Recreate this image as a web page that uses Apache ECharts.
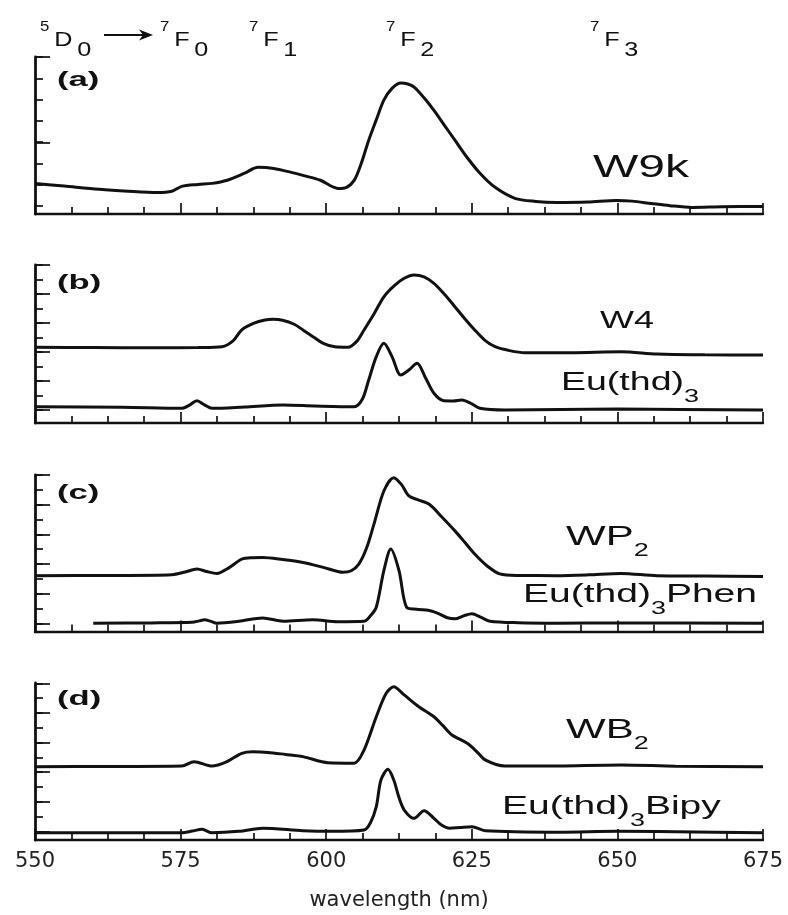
<!DOCTYPE html>
<html>
<head>
<meta charset="utf-8">
<script src="https://cdn.jsdelivr.net/npm/echarts@6/dist/echarts.min.js"></script>
<style>html,body{margin:0;padding:0;background:#fff}#c{width:788px;height:915px}</style>
</head>
<body>
<div id="c"></div>
<script>
// ---------- data (wavelength nm, relative intensity in % of panel height) ----------
const xTickValues = [550, 575, 600, 625, 650, 675];

const wlW9k  = [550, 555, 561, 566, 571, 573.5, 575.2, 578, 580.4, 583, 586, 588.3, 591, 594, 596, 599, 602, 603.5, 604.8, 606, 607.3, 608.6, 609.9, 611.3, 612.8, 614, 615.1, 616.8, 618.5, 620.3, 622.1, 624.2, 626.4, 629, 632.4, 636, 639.5, 645, 649.8, 652.5, 655.8, 659, 662.8, 668, 675];
const intW9k = [19.5, 17.8, 15.7, 14.5, 13.7, 14.5, 17.6, 18.8, 19.5, 21.5, 26, 29.7, 29, 26.5, 24.6, 21.5, 16.3, 17, 21.4, 32, 47, 60, 72.5, 80, 83.4, 82.8, 80.8, 74, 66, 56.5, 47, 36, 26, 17, 10, 8, 7.3, 7.6, 8.6, 8.2, 6.7, 5.3, 4.2, 4.6, 4.8];

const wlW4  = [550, 560, 570, 578, 582.1, 584, 585.5, 587.5, 589.5, 590.9, 592.5, 594.5, 596, 597.8, 599.5, 601.5, 603.7, 605.2, 606.5, 608.2, 609.9, 611.7, 613.4, 615.1, 616.8, 618.5, 620.3, 622.1, 623.8, 625.5, 627.2, 629, 631.5, 634.1, 642, 650.6, 656.8, 665, 675];
const intW4 = [47.9, 47.8, 47.6, 47.8, 48.3, 52, 58.9, 63, 65.2, 65.6, 65, 62.5, 58.9, 54.5, 50.4, 48.2, 47.9, 51.5, 58.9, 69, 79.9, 87, 91.6, 93.7, 92.5, 88.4, 81.5, 73.6, 66, 58.9, 52.5, 48.3, 45.8, 44.5, 44.5, 45.1, 43.7, 43.2, 43];

const wlEu  = [550, 565, 575.2, 576.6, 577.8, 579.1, 580.4, 586, 592.6, 598, 604.8, 606.2, 607.3, 608.6, 609.9, 611.3, 612.8, 614.2, 615.6, 617, 618.5, 620.2, 621.8, 623.3, 624.8, 626.4, 630.7, 650, 675];
const intEu = [10.3, 10, 9.3, 11.5, 14.1, 11.5, 9.3, 10.2, 11.4, 10.8, 10.3, 15, 27.2, 42, 50.4, 42, 30.4, 33.5, 37.8, 29, 18.8, 14.1, 14, 14.6, 12.5, 9.3, 8.2, 8.8, 8.2];

const wlWP2  = [550, 562, 573.5, 575.8, 577.8, 579.5, 581.2, 583.4, 585.5, 587.3, 589.1, 592.5, 596, 599.5, 602.9, 604.3, 605.6, 606.9, 608.2, 609.9, 611.6, 612.9, 614.2, 615.9, 617.7, 619.9, 622.1, 623.8, 625.5, 627.6, 629.8, 633, 639.5, 645, 650.6, 656.8, 665, 675];
const intWP2 = [35.7, 35.8, 36.3, 38, 39.9, 38.3, 37.1, 41, 46.3, 47.2, 47.3, 46, 44.1, 41, 37.8, 38.8, 43.1, 53, 68.6, 89.8, 98.3, 94, 86.6, 84, 81.3, 73, 64.3, 57, 49.5, 42, 36.8, 35.8, 35.7, 36.2, 37.1, 35.7, 35.5, 35.2];

const wlPhen  = [560, 570, 577.0, 578.2, 579.1, 580.2, 581.2, 585, 589.1, 592.6, 597.7, 602, 606.5, 607.6, 608.6, 609.9, 611.1, 612.5, 613.8, 615.5, 617.7, 619.4, 620.8, 622.1, 623.6, 625.0, 626.6, 628.1, 633, 639.5, 650, 675];
const intPhen = [5.3, 5.5, 5.9, 6.8, 7.5, 6.5, 5.3, 6.5, 8.7, 6.6, 7.5, 6.3, 6.6, 10, 15.5, 38.9, 52.7, 38.9, 15.5, 14.2, 13.4, 11.3, 8.8, 8.1, 10, 11.3, 9, 6.6, 5.6, 5.3, 5.5, 5.3];

const wlWB2  = [550, 562, 575.2, 577.3, 580.4, 583, 585.5, 587.4, 590, 593, 596, 600.3, 604.8, 606.5, 608.6, 610.3, 611.6, 613.4, 615.9, 618.5, 620, 621.6, 624.2, 625.8, 627.3, 630.7, 640, 650.6, 660, 675];
const intWB2 = [46.7, 46.8, 47.1, 49.9, 47.1, 50, 55.2, 56.2, 55.8, 54.5, 53.1, 49.2, 48.9, 57.3, 78.5, 93.4, 97.6, 92.4, 84.9, 78.5, 73, 66.9, 61.6, 56.5, 51, 47.1, 47.2, 47.8, 47, 46.7];

const wlBipy  = [550, 565, 575.2, 577, 578.7, 580.4, 585, 589.1, 596, 601, 606.5, 607.6, 608.6, 609.4, 610.6, 611.6, 612.5, 613.4, 615.1, 616.8, 618.5, 619.8, 621.2, 623, 625.0, 627.3, 640, 650, 675];
const intBipy = [4.6, 4.6, 4.6, 5.7, 6.8, 4.6, 5.5, 7.5, 5.9, 5.5, 6.4, 11, 21.2, 38.2, 45, 38.2, 27, 19.1, 13.8, 18.7, 13.8, 9.5, 7.5, 8, 8.5, 5.9, 5, 5.6, 4.6];

// ---------- layout / style ----------
const INK = '#111';
const SANS = '"Liberation Sans", Arial, sans-serif';
const WIDE = '"DejaVu Sans", sans-serif';
const LEFT = 35, RIGHT = 25;
const panels = [
  { top: 57,  bottom: 214,   curves: [[wlW9k, intW9k]] },
  { top: 265, bottom: 423,   curves: [[wlW4, intW4], [wlEu, intEu]] },
  { top: 475, bottom: 631.5, curves: [[wlWP2, intWP2], [wlPhen, intPhen]] },
  { top: 683, bottom: 840,   curves: [[wlWB2, intWB2], [wlBipy, intBipy]] }
];
// inside tick marks of the left axes (each set = its own tick scale)
const tickSets = [
  { top: 57,    height: 149,   max: 7,  interval: 1, len: 8 },
  { top: 57,    height: 85.7,  max: 4,  interval: 4, len: 15 },
  { top: 265,   height: 145,   max: 10, interval: 1, len: 8 },
  { top: 265,   height: 145,   max: 10, interval: 2, len: 15 },
  { top: 475,   height: 148.3, max: 10, interval: 1, len: 8 },
  { top: 475,   height: 148.3, max: 10, interval: 2, len: 15 },
  { top: 683.3, height: 148,   max: 10, interval: 1, len: 8 },
  { top: 683.3, height: 148,   max: 10, interval: 2, len: 15 }
];

const grids = [], xAxes = [], yAxes = [], series = [];
panels.forEach((p, i) => {
  grids.push({ left: LEFT, right: RIGHT, top: p.top, height: p.bottom - p.top, outerBoundsMode: 'none', containLabel: false });
  const last = i === panels.length - 1;
  xAxes.push({
    type: 'value', gridIndex: i, min: xTickValues[0], max: xTickValues[xTickValues.length - 1], interval: 25,
    axisLine: { show: true, onZero: false, lineStyle: { color: INK, width: 2.4 } },
    axisTick: { show: true, inside: true, length: 11, lineStyle: { color: INK, width: 1.7 } },
    minorTick: { show: true, splitNumber: 4, length: 7, lineStyle: { color: INK, width: 1.7 } },
    splitLine: { show: false }, minorSplitLine: { show: false },
    axisLabel: { show: last, margin: 11, color: '#222', fontFamily: WIDE, fontSize: 21, showMinLabel: true, showMaxLabel: true },
    name: last ? 'wavelength (nm)' : '',
    nameLocation: 'middle', nameGap: 50,
    nameTextStyle: { color: '#222', fontFamily: WIDE, fontSize: 21 }
  });
  yAxes.push({
    type: 'value', gridIndex: i, min: 0, max: 100,
    axisLine: { show: true, onZero: false, lineStyle: { color: INK, width: 2.8 } },
    axisTick: { show: false }, axisLabel: { show: false }, splitLine: { show: false }
  });
  p.curves.forEach(([wl, val]) => {
    series.push({
      type: 'line', xAxisIndex: i, yAxisIndex: i,
      data: wl.map((w, k) => [w, val[k]]),
      showSymbol: false, smooth: 0.3, silent: true,
      lineStyle: { color: INK, width: 3 }
    });
  });
});
tickSets.forEach((t, j) => {
  const g = grids.length;
  grids.push({ left: LEFT, right: RIGHT, top: t.top, height: t.height, outerBoundsMode: 'none', containLabel: false });
  xAxes.push({ type: 'value', gridIndex: g, min: 0, max: 1, show: false });
  yAxes.push({
    type: 'value', gridIndex: g, min: 0, max: t.max, interval: t.interval,
    axisLine: { show: false }, axisLabel: { show: false }, splitLine: { show: false },
    axisTick: { show: true, inside: true, length: t.len, lineStyle: { color: INK, width: 1.7 } }
  });
});

// ---------- text annotations ----------
function sub(x, y, main, subTxt, tail, size, align) {
  const rich = {
    m: { fontFamily: SANS, fontSize: size, lineHeight: 46, fill: INK },
    s: { fontFamily: SANS, fontSize: 18, lineHeight: 18, verticalAlign: 'bottom', fill: INK }
  };
  const text = '{m|' + main + '}' + (subTxt ? '{s|' + subTxt + '}' : '') + (tail ? '{m|' + tail + '}' : '');
  return { type: 'text', x: x, y: y, scaleX: 1.5, silent: true,
    style: { text: text, rich: rich, align: align || 'left', verticalAlign: 'middle' } };
}
function term(x, sup, main, subTxt) {
  return { type: 'text', x: x, y: 40.5, scaleX: 1.2, silent: true,
    style: {
      text: '{p|' + sup + '}{b|' + main + '}{q|' + subTxt + '}',
      verticalAlign: 'middle', align: 'left',
      rich: {
        p: { fontFamily: SANS, fontSize: 14, lineHeight: 14, verticalAlign: 'top', fill: INK },
        b: { fontFamily: SANS, fontSize: 21, lineHeight: 41, fill: INK, padding: [0, 0, 0, 4] },
        q: { fontFamily: SANS, fontSize: 21, lineHeight: 31, verticalAlign: 'bottom', fill: INK, padding: [0, 0, 0, 4] }
      }
    } };
}
function panelTag(y, t) {
  return { type: 'text', x: 57, y: y, scaleX: 1.65, silent: true,
    style: { text: t, fontFamily: SANS, fontWeight: 'bold', fontSize: 21, fill: INK, align: 'left', verticalAlign: 'middle' } };
}

const graphic = [
  term(40, '5', 'D', '0'),
  { type: 'line', silent: true, shape: { x1: 104, y1: 35, x2: 146, y2: 35 }, style: { stroke: INK, lineWidth: 2.2 } },
  { type: 'polygon', silent: true, shape: { points: [[139, 29.5], [153, 35], [139, 40.5], [143, 35]] }, style: { fill: INK } },
  term(160, '7', 'F', '0'),
  term(249, '7', 'F', '1'),
  term(386, '7', 'F', '2'),
  term(590, '7', 'F', '3'),
  panelTag(80, '(a)'), panelTag(283, '(b)'), panelTag(493, '(c)'), panelTag(699, '(d)'),
  sub(641, 168, 'W9k', '', '', 32, 'center'),
  sub(627, 321, 'W4', '', '', 24, 'center'),
  sub(561, 383, 'Eu(thd)', '3', '', 25),
  sub(566, 537, 'WP', '2', '', 28),
  sub(523, 595, 'Eu(thd)', '3', 'Phen', 26),
  sub(566, 730, 'WB', '2', '', 28),
  sub(502, 807, 'Eu(thd)', '3', 'Bipy', 26)
];

const chart = echarts.init(document.getElementById('c'), null, { renderer: 'canvas' });
chart.setOption({
  animation: false,
  backgroundColor: '#fff',
  grid: grids, xAxis: xAxes, yAxis: yAxes, series: series, graphic: graphic
});
</script>
</body>
</html>
